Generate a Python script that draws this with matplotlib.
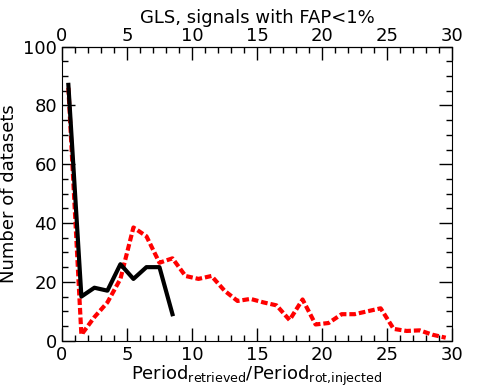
import matplotlib
matplotlib.use("Agg")
import matplotlib.pyplot as plt
from matplotlib.ticker import MultipleLocator, FixedLocator

# ratio bins (bin centres)
x_black = [0.5, 1.5, 2.5, 3.5, 4.5, 5.5, 6.5, 7.5, 8.5]
n_black = [87, 15, 18, 17, 26, 21, 25, 25, 9]

x_red = [0.5, 1.5, 2.5, 3.5, 4.5, 5.5, 6.5, 7.5, 8.5, 9.5,
         10.5, 11.5, 12.5, 13.5, 14.5, 15.5, 16.5, 17.5, 18.5, 19.5,
         20.5, 21.5, 22.5, 23.5, 24.5, 25.5, 26.5, 27.5, 28.5, 29.5]
n_red = [86, 2, 8, 13, 21, 38.5, 35.5, 26.5, 28, 22,
         21, 22, 17, 13.5, 14.2, 13, 12, 7, 14, 5.5,
         6, 9, 9, 10, 11, 4, 3.3, 3.5, 2, 1]

x_major = [0, 5, 10, 15, 20, 25, 30]

fig = plt.figure(figsize=(4.91, 3.92), dpi=100)
ax = fig.add_axes([0.126, 0.131, 0.795, 0.75])

ax.plot(x_red, n_red, color="red", lw=3, dashes=(1.6, 0.7))
ax.plot(x_black, n_black, color="black", lw=3)

ax.set_xlim(0, 30)
ax.set_ylim(0, 100)
ax.xaxis.set_major_locator(FixedLocator(x_major))
ax.xaxis.set_minor_locator(FixedLocator(range(0, 31)))
ax.yaxis.set_major_locator(MultipleLocator(20))
ax.yaxis.set_minor_locator(MultipleLocator(5))
ax.tick_params(which="both", direction="in", top=False, right=True,
               labelsize=13)
ax.tick_params(which="major", length=9.4, width=1)
ax.tick_params(which="minor", length=4.5, width=1)

# top axis with its own (tighter) label padding
top = ax.secondary_xaxis("top")
top.xaxis.set_major_locator(FixedLocator(x_major))
top.xaxis.set_minor_locator(FixedLocator(range(0, 31)))
top.tick_params(which="both", direction="in", labelsize=13, pad=1)
top.tick_params(which="major", length=9.4, width=1)
top.tick_params(which="minor", length=4.5, width=1)

ax.set_xlabel(r"Period$_{\rm retrieved}$/Period$_{\rm rot{,}injected}$",
              fontsize=13, labelpad=0)
ax.set_ylabel("Number of datasets", fontsize=13)
ax.set_title("GLS, signals with FAP<1%", fontsize=13, pad=2)

plt.savefig("out.png", dpi=100)
